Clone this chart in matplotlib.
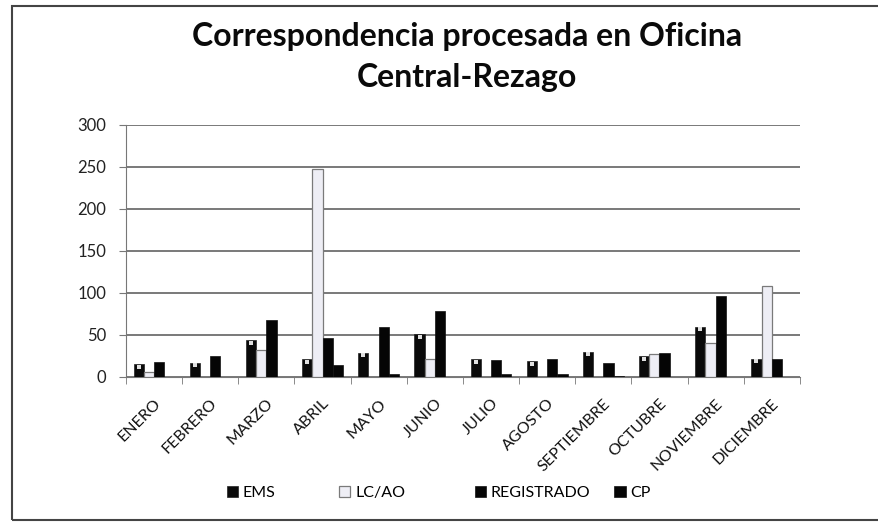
import matplotlib
matplotlib.use("Agg")
import matplotlib.pyplot as plt
from matplotlib.patches import Rectangle
import numpy as np

plt.rcParams['font.family'] = ['Lato', 'DejaVu Sans']

# ---------------- DATA ----------------
months = ["ENERO", "FEBRERO", "MARZO", "ABRIL", "MAYO", "JUNIO", "JULIO",
          "AGOSTO", "SEPTIEMBRE", "OCTUBRE", "NOVIEMBRE", "DICIEMBRE"]
ems = [15, 17, 44, 21, 29, 51, 21, 19, 30, 25, 60, 22]
lc_ao = [6, 0, 32, 248, 0, 22, 0, 0, 0, 27, 41, 108]
registrado = [18, 25, 68, 47, 59, 79, 20, 22, 17, 29, 96, 22]
cp = [0, 0, 0, 14, 3, 0, 4, 3, 1, 0, 0, 0]

series_names = ["EMS", "LC/AO", "REGISTRADO", "CP"]

fig = plt.figure(figsize=(8.79, 5.26), dpi=100)
ax = fig.add_axes([0.1433, 0.2833, 0.7667, 0.4791])

x = np.arange(len(months))
w = 1 / 5.5

# ---------------- BARS ----------------
bars = []
bars.append(ax.bar(x - 1.5 * w, ems, w, color="#0a0a0a", edgecolor="#222222",
                   linewidth=0.5, zorder=3))
bars.append(ax.bar(x - 0.5 * w, lc_ao, w, color="#eeeef5", edgecolor="#7a7a7a",
                   linewidth=0.9, zorder=3))
bars.append(ax.bar(x + 0.5 * w, registrado, w, color="#050505",
                   edgecolor="#111111", linewidth=0.5, zorder=3))
bars.append(ax.bar(x + 1.5 * w, cp, w, color="#050505", edgecolor="#111111",
                   linewidth=0.5, zorder=3))

# white spot near top of EMS bars (photocopy look)
ems_arr = np.array(ems)
ax.scatter(x - 1.5 * w, ems_arr - 3, marker="s", s=7, color="#e0e0e0",
           linewidths=0, zorder=4)

# ---------------- AXES ----------------
ax.set_xlim(-0.5, len(months) - 0.5)
ax.set_ylim(0, 300)
ax.set_yticks(np.arange(0, 301, 50))
ax.yaxis.grid(True, color="#555555", linewidth=1.1, zorder=0)
ax.set_axisbelow(True)

ax.set_xticks(x)
ax.set_xticklabels(months, rotation=45, ha="right", rotation_mode="anchor",
                   fontsize=11.5, color="#111111")
ax.tick_params(axis="x", which="major", length=0, pad=14)
ax.set_xticks(np.arange(-0.5, len(months), 1), minor=True)
ax.tick_params(axis="x", which="minor", length=5, color="#777777",
               direction="out")
ax.tick_params(axis="y", length=5, color="#777777", labelsize=12,
               labelcolor="#222222", pad=9)

for side in ["top", "right"]:
    ax.spines[side].set_visible(False)
ax.spines["left"].set_color("#777777")
ax.spines["bottom"].set_color("#777777")

# ---------------- TITLE ----------------
fig.text(0.531, 0.892, "Correspondencia procesada en Oficina\nCentral-Rezago",
         ha="center", va="center", fontsize=23, fontweight="bold",
         linespacing=1.5, color="#0a0a0a")

# ---------------- LEGEND ----------------
legend_x = [0.258, 0.386, 0.540, 0.699]
for b, name, lx in zip(bars, series_names, legend_x):
    leg = fig.legend([b], [name], loc="center left", bbox_to_anchor=(lx, 0.063),
                     frameon=False, fontsize=11.5, handlelength=0.7,
                     handleheight=0.7, handletextpad=0.3, borderpad=0,
                     borderaxespad=0)

# ---------------- CHART BORDER ----------------
fig.patches.append(Rectangle((0.014, 0.011), 0.99, 0.978,
                             transform=fig.transFigure, fill=False,
                             edgecolor="#444444", linewidth=1.5))

fig.savefig("out.png", dpi=100)
plt.close(fig)
